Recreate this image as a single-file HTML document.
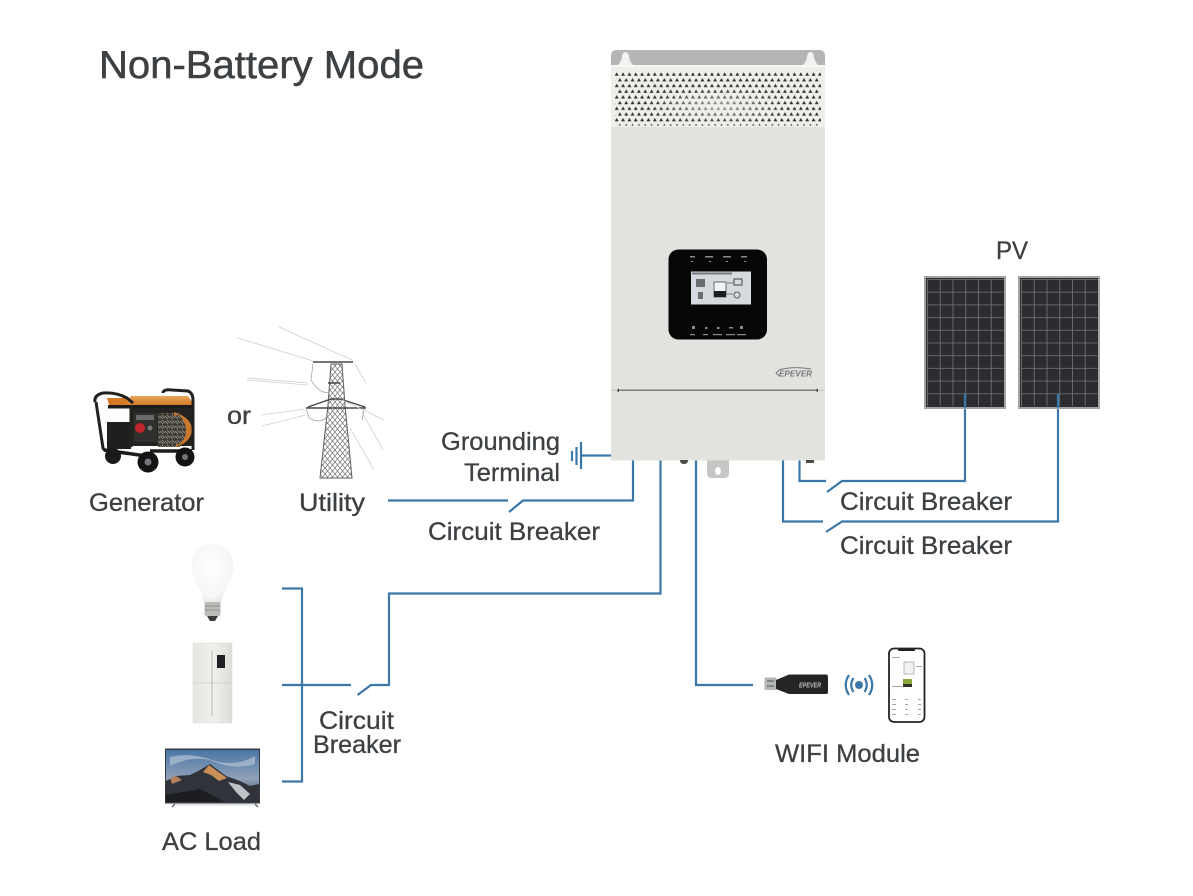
<!DOCTYPE html>
<html>
<head>
<meta charset="utf-8">
<title>Non-Battery Mode</title>
<style>
html,body{margin:0;padding:0;background:#fff;}
svg{display:block;}
text{font-family:"Liberation Sans","DejaVu Sans",sans-serif;fill:#3d4043;font-size:25px;stroke:#3d4043;stroke-width:.3px;}
text.n{stroke:none;}
.w{fill:none;stroke:#3b77a9;stroke-width:2.2;}
</style>
</head>
<body>
<svg width="1193" height="896" viewBox="0 0 1193 896" xmlns="http://www.w3.org/2000/svg">
<defs>
<pattern id="vent" x="615" y="72" width="6.35" height="11.4" patternUnits="userSpaceOnUse">
<path d="M1.7 .4l2 3.300h-4z" fill="#2e302c"/>
<path d="M4.870 6.100l2 3.300h-4z" fill="#2e302c"/>
<path d="M-1.480 6.100l2 3.300h-4z" fill="#2e302c"/>
</pattern>
<radialGradient id="ventFade" cx=".5" cy=".65" r=".35">
<stop offset="0" stop-color="#eeeeea" stop-opacity=".6"/>
<stop offset="1" stop-color="#eeeeea" stop-opacity="0"/>
</radialGradient>
<pattern id="pv" x="927" y="279" width="12.75" height="12.7" patternUnits="userSpaceOnUse">
<rect width="12.75" height="12.7" fill="#2a2c30"/>
<path d="M0 .5H12.75M.5 0V12.7" stroke="#74767a" stroke-width=".8"/>
</pattern>
<pattern id="pv2" x="1021" y="279" width="12.75" height="12.7" patternUnits="userSpaceOnUse">
<rect width="12.75" height="12.7" fill="#2a2c30"/>
<path d="M0 .5H12.75M.5 0V12.7" stroke="#74767a" stroke-width=".8"/>
</pattern>
<radialGradient id="bulb" cx=".45" cy=".4" r=".7">
<stop offset="0" stop-color="#ffffff"/>
<stop offset=".7" stop-color="#f6f6f4"/>
<stop offset="1" stop-color="#dcdcd9"/>
</radialGradient>
<linearGradient id="sky" x1="0" y1="0" x2="0" y2="1">
<stop offset="0" stop-color="#4a76a6"/>
<stop offset=".55" stop-color="#8fa1b8"/>
<stop offset="1" stop-color="#3a4450"/>
</linearGradient>
<linearGradient id="fr" x1="0" y1="0" x2="1" y2="0">
<stop offset="0" stop-color="#e6e5e1"/>
<stop offset=".5" stop-color="#f1f0ed"/>
<stop offset="1" stop-color="#dddcd8"/>
</linearGradient>
<linearGradient id="tank" x1="0" y1="0" x2="0" y2="1">
<stop offset="0" stop-color="#e9a55a"/>
<stop offset="1" stop-color="#d0741f"/>
</linearGradient>
<pattern id="lat" width="5" height="6" patternUnits="userSpaceOnUse">
<path d="M0 0L5 6M5 0L0 6" stroke="#66686a" stroke-width=".65"/>
</pattern>
<pattern id="camo" width="5" height="5" patternUnits="userSpaceOnUse">
<rect width="5" height="5" fill="#3c3a34"/>
<path d="M0 1L3 4M2 0L5 3" stroke="#8d8a7d" stroke-width=".9"/>
</pattern>
</defs>

<rect width="1193" height="896" fill="#fff"/>

<text x="99" y="78" style="font-size:39px;stroke-width:.5px" textLength="325" lengthAdjust="spacingAndGlyphs">Non-Battery Mode</text>

<!-- Wires -->
<path class="w" d="M388 500.500H508M509 512L523 500.500H633V460"/>
<path class="w" d="M660.500 460V593.500H389V685H371L357.500 695M351 685H282M282 588.500H302V781.500H282"/>
<path class="w" d="M696 460V685H753"/>
<path class="w" d="M799.500 460V481H826M827 492L842 481H965V394"/>
<path class="w" d="M783 460V521.500H823M826 532L842 521.500H1058V394"/>
<path class="w" d="M611 455.500H581M581 442V469M572 451V461M576.500 447V465"/>

<!-- Inverter -->
<path d="M611 65V56q0-6 6-6H819q6 0 6 6V65z" fill="#b5b6b4"/>
<path d="M618 65q3-3 4-8q.5-5 3.500-5t3.500 5q1 5 4 8zM803 65q3-3 4-8q.5-5 3.500-5t3.500 5q1 5 4 8z" fill="#f2f2f0"/>
<rect x="611" y="65" width="214" height="2" fill="#f7f7f5"/>
<rect x="611" y="67" width="214" height="393.500" fill="#e2e3df"/>
<rect x="611" y="67" width="214" height="60" fill="#eeeeea"/>
<rect x="615" y="72" width="206" height="53.500" fill="url(#vent)"/>
<rect x="615" y="72" width="206" height="53.500" fill="url(#ventFade)"/>
<path d="M680 460h8q0 4-4 4t-4-4zM806 460h8v3h-8z" fill="#4a4a48"/>
<path d="M707 460.500H729V473q0 5-5 5H712q-5 0-5-5z" fill="#c6c7c5"/>
<ellipse cx="718" cy="471" rx="2.800" ry="4" fill="#fff"/>

<!-- Front panel -->
<rect x="668.500" y="249.500" width="98.500" height="90" rx="10" fill="#070708"/>
<rect x="691" y="271.500" width="60" height="33" fill="#d6d9dd"/>
<rect x="692" y="272.500" width="40" height="2" fill="#777a80"/>
<path d="M696 279h9v8h-9zM698 292h5v7h-5z" fill="#6a6d72"/>
<rect x="714" y="282" width="12" height="15" fill="#f1f2f3" stroke="#4a4d52" stroke-width=".8"/>
<rect x="714" y="291" width="12" height="6" fill="#1c1e22"/>
<rect x="734" y="279" width="8" height="6" fill="none" stroke="#3f4247"/>
<circle cx="737" cy="295" r="3" fill="none" stroke="#5a5d62"/>
<path d="M727 283h6M727 294h6" stroke="#777a80"/>
<g fill="#8a8b8d">
<rect x="690" y="256" width="5" height="1.500"/><rect x="705" y="256" width="8" height="1.500"/><rect x="723" y="256" width="8" height="1.500"/><rect x="741" y="256" width="6" height="1.500"/>
<rect x="691" y="261" width="2" height="1"/><rect x="709" y="261" width="2" height="1"/><rect x="726" y="261" width="2" height="1"/><rect x="744" y="261" width="2" height="1"/>
<rect x="690" y="334" width="5" height="1.200"/><rect x="703" y="334" width="5" height="1.200"/><rect x="713" y="334" width="9" height="1.200"/><rect x="726" y="334" width="9" height="1.200"/><rect x="737" y="334" width="9" height="1.200"/>
<rect x="692" y="326" width="3" height="3"/><rect x="705" y="327" width="2.500" height="2"/><rect x="717" y="327" width="2.500" height="2"/><rect x="729" y="327" width="4" height="1.500"/><rect x="740" y="326" width="3" height="3"/>
</g>

<!-- Panel seam and logo -->
<rect x="611" y="389.800" width="214" height="1" fill="#c2c3bf"/>
<rect x="618" y="389.500" width="199" height="1.400" fill="#77797a"/>
<rect x="617.500" y="388.800" width="1.500" height="3" fill="#444"/>
<rect x="816.500" y="388.800" width="1.500" height="3" fill="#444"/>
<text class="n" x="779" y="376.500" style="font-size:8.500px;font-weight:bold;font-style:italic;fill:#77797c" textLength="33" lengthAdjust="spacingAndGlyphs">EPEVER</text>
<path d="M780 369.500Q795 366 811 369M780 369.500L776 373L780 376.500" fill="none" stroke="#77797c" stroke-width="1"/>

<!-- PV panels -->
<rect x="925" y="277" width="80" height="131" fill="#2a2c30" stroke="#a3a4a4" stroke-width="2"/>
<rect x="927" y="279" width="76.500" height="127" fill="url(#pv)"/>
<rect x="1019" y="277" width="80" height="131" fill="#2a2c30" stroke="#a3a4a4" stroke-width="2"/>
<rect x="1021" y="279" width="76.500" height="127" fill="url(#pv2)"/>
<path d="M965 394V408M1058 394V408" class="w"/>

<!-- Generator -->
<g>
<path d="M107 398L127 398L131 408H110z" fill="#d57a26"/>
<path d="M127 402L131 396H188L193 403V407H130z" fill="url(#tank)"/>
<rect x="107" y="422" width="24" height="27" fill="#1f1f1e"/>
<rect x="108" y="405" width="85" height="3.500" fill="#1d1c1a"/>
<rect x="132" y="408" width="60" height="38" fill="#242321"/>
<rect x="134" y="413" width="23" height="29" fill="#2f2f2d"/>
<rect x="136" y="415" width="18" height="5" fill="#6a6a68"/>
<circle cx="140" cy="428" r="5" fill="#c0262c"/>
<circle cx="150" cy="428" r="2.500" fill="#77787a"/>
<rect x="158" y="413" width="22" height="34" fill="url(#camo)"/>
<path d="M174 412Q192 418 192 430Q191 442 176 447z" fill="#c9772a"/>
<path d="M178 414Q186 422 186 430Q186 440 178 445L172 440V418z" fill="url(#camo)"/>
<path d="M95 402Q94 395 103 393Q116 392 127 398L133 403M163 393Q163 389 172 390L188 391Q193 393 193 400V450M96 402L103 448Q104 451 110 451M131 405V447" fill="none" stroke="#22211e" stroke-width="3"/>
<path d="M104 450L146 456M150 451H192" stroke="#1d1c1a" stroke-width="3.500"/>
<circle cx="113" cy="456" r="8" fill="#1a1a1a"/>
<circle cx="148" cy="462" r="10.500" fill="#131313"/><circle cx="148" cy="462" r="3.500" fill="#74757a"/>
<circle cx="185" cy="457" r="9.500" fill="#131313"/><circle cx="185" cy="457" r="3" fill="#74757a"/>
</g>
<text x="89" y="511" textLength="115" lengthAdjust="spacingAndGlyphs">Generator</text>
<text x="227" y="424" textLength="24" lengthAdjust="spacingAndGlyphs">or</text>

<!-- Tower -->
<g fill="none">
<path d="M331 364H342L345 405L352 478H320L328 405z" fill="url(#lat)" stroke="#5c5e60" stroke-width="1"/>
<path d="M313 362H353M328 383H340M308 407L331 399H340L365 407M306 408H366" stroke="#45484a" stroke-width="1.400"/>
<path d="M313 364L311 380Q320 395 330 392M306 408L309 418Q322 425 328 415M364 409L362 420" stroke="#a3a5a6" stroke-width=".8"/>
<g stroke="#cfd0d1" stroke-width=".8">
<path d="M238 338L313 361M279 327L352 360M247 378L308 383M247 380L308 385M261 415L305 409M262 426L306 415"/>
<path d="M355 364L366 383M362 412L383 450M350 428L374 470M342 400L384 420"/>
</g>
</g>
<text x="299" y="511" textLength="66" lengthAdjust="spacingAndGlyphs">Utility</text>

<!-- Bulb -->
<path d="M212.500 544C199 544 191.500 555 191.500 566C191.500 580 202 590 204 603H221C223 590 233 580 233 566C233 555 226 544 212.500 544z" fill="url(#bulb)"/>
<rect x="204.500" y="602" width="16" height="14" rx="2" fill="#bcbcb8"/>
<path d="M205 606H220M205 610H220" stroke="#8f8f8b" stroke-width="1"/>
<path d="M207 616H218L215 621H210z" fill="#3c3c3c"/>

<!-- Fridge -->
<rect x="193" y="643" width="39" height="80" fill="url(#fr)" stroke="#dcdbd7" stroke-width=".5"/>
<path d="M193 683H232" stroke="#cfcec9" stroke-width=".8"/>
<path d="M212 650V716" stroke="#c2c1bc" stroke-width="1.200"/>
<rect x="217" y="655" width="8" height="13" fill="#202124"/>

<!-- TV -->
<rect x="165" y="748.500" width="95" height="55" fill="#35383c"/>
<rect x="166" y="750" width="93" height="52" fill="url(#sky)"/>
<path d="M170 757Q190 752 212 760T255 756V764Q235 770 215 762T170 766z" fill="#b9c6d6" opacity=".65"/>
<path d="M166 781L176 776L190 775L200 770L210 764L218 770L226 776L240 781L250 786L259 784V802H166z" fill="#30333a"/>
<path d="M203 772L209 765L217 771L227 778L219 781L211 775z" fill="#c89058"/>
<path d="M170 778L176 776L182 780L172 784z" fill="#b3835c"/>
<path d="M228 782L240 785L250 794L244 800L236 792z" fill="#bfc2c6"/>
<path d="M166 795L200 789L225 802H166z" fill="#1c1d20"/>
<path d="M172 807L175 804M255 804L258 807" stroke="#55585a" stroke-width="1.300"/>
<rect x="176" y="804" width="79" height="1.500" fill="#dedfe0"/>

<text x="162" y="850" textLength="99" lengthAdjust="spacingAndGlyphs">AC Load</text>

<!-- Labels -->
<text x="441" y="450" textLength="119" lengthAdjust="spacingAndGlyphs">Grounding</text>
<text x="464" y="481" textLength="96" lengthAdjust="spacingAndGlyphs">Terminal</text>
<text x="428" y="540" textLength="172" lengthAdjust="spacingAndGlyphs">Circuit Breaker</text>
<text x="840" y="510" textLength="172" lengthAdjust="spacingAndGlyphs">Circuit Breaker</text>
<text x="840" y="554" textLength="172" lengthAdjust="spacingAndGlyphs">Circuit Breaker</text>
<text x="319" y="729" textLength="75" lengthAdjust="spacingAndGlyphs">Circuit</text>
<text x="313" y="753" textLength="88" lengthAdjust="spacingAndGlyphs">Breaker</text>
<text x="996" y="259" textLength="32" lengthAdjust="spacingAndGlyphs">PV</text>
<text x="775" y="762" textLength="145" lengthAdjust="spacingAndGlyphs">WIFI Module</text>

<!-- WIFI module -->
<rect x="764.500" y="677.500" width="12" height="12.500" rx="1" fill="#b4b7b8"/>
<path d="M767 681H774M767 686H774" stroke="#65686a" stroke-width="1.200"/>
<path d="M776 680L789 674.500H826Q828 674.500 828 677V692Q828 694 826 694H789L776 689z" fill="#252527"/>
<text class="n" x="799" y="687.500" style="font-size:7px;font-weight:bold;font-style:italic;fill:#b9bbbd" textLength="22" lengthAdjust="spacingAndGlyphs">EPEVER</text>

<!-- WIFI signal -->
<circle cx="859" cy="685" r="4" fill="#3b77a9"/>
<path d="M853.500 678Q849 685 853.500 692M864.500 678Q869 685 864.500 692M849 675Q842.500 685 849 695M869 675Q875.500 685 869 695" fill="none" stroke="#3b77a9" stroke-width="2.200"/>

<!-- Phone -->
<rect x="889" y="648.500" width="35.500" height="73.500" rx="5" fill="#fff" stroke="#222326" stroke-width="1.800"/>
<rect x="898" y="648.500" width="17" height="2.500" rx="1" fill="#222326"/>
<rect x="904" y="662" width="10" height="12" fill="#f2f2f2" stroke="#9b9c9e" stroke-width=".7"/>
<rect x="903" y="679" width="9" height="8" fill="#8ba63a"/>
<rect x="903" y="684" width="9" height="3" fill="#2f3326"/>
<g fill="#a7a8aa">
<rect x="892" y="657" width="8" height="1"/><rect x="892" y="686" width="10" height="1"/><rect x="916" y="666" width="6" height="1"/><rect x="892" y="699" width="4" height="1"/><rect x="905" y="699" width="3" height="1"/><rect x="918" y="699" width="3" height="1"/><rect x="892" y="704" width="4" height="1"/><rect x="905" y="704" width="3" height="1"/><rect x="918" y="704" width="3" height="1"/><rect x="892" y="709" width="4" height="1"/><rect x="905" y="709" width="3" height="1"/><rect x="918" y="709" width="3" height="1"/><rect x="892" y="714" width="4" height="1"/><rect x="905" y="714" width="3" height="1"/><rect x="918" y="714" width="3" height="1"/>
</g>
</svg>
</body>
</html>
